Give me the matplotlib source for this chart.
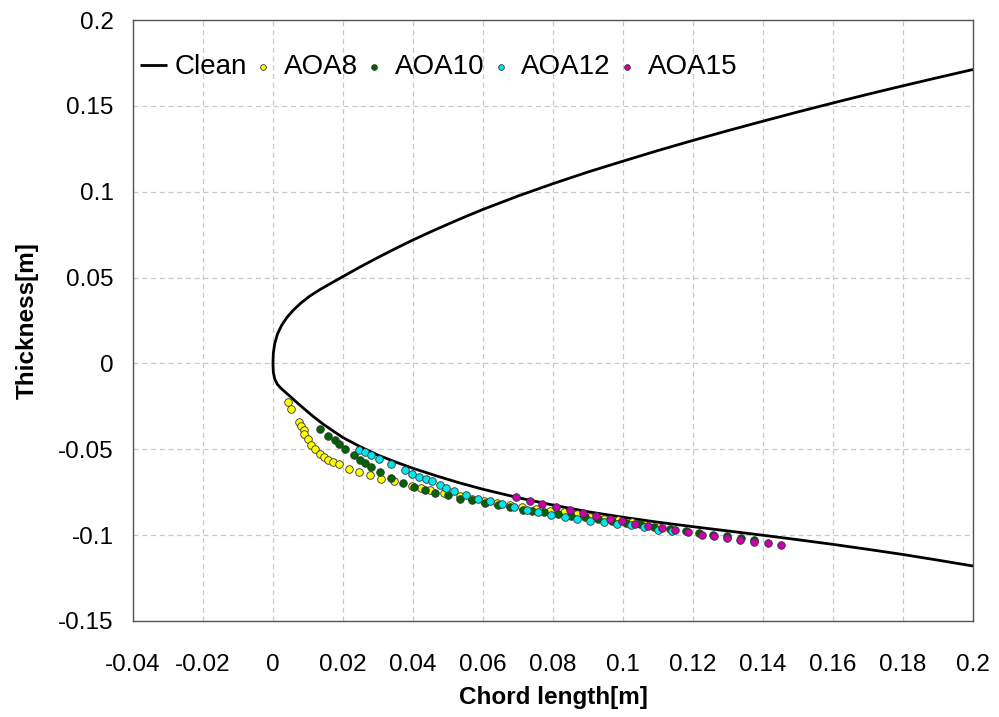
import matplotlib
matplotlib.use("Agg")
import matplotlib.pyplot as plt
import numpy as np

plt.rcParams['font.family'] = ['Liberation Sans', 'DejaVu Sans']

# Clean airfoil contour: upper surface (trailing -> nose), lower surface (nose -> trailing)
upper_x = [0.2, 0.19, 0.18, 0.17, 0.16, 0.15, 0.14, 0.13, 0.12, 0.11, 0.10, 0.09, 0.08, 0.07,
           0.06, 0.055, 0.05, 0.045, 0.04, 0.035, 0.03, 0.025, 0.02, 0.0165, 0.0135,
           0.0105, 0.0080, 0.0058, 0.0040, 0.0025, 0.0013, 0.0005, 0.0001, 0.0]
upper_y = [0.1712, 0.1665, 0.1617, 0.1568, 0.1517, 0.1465, 0.1411, 0.1356, 0.1299, 0.1240, 0.1178, 0.1115, 0.1047, 0.0975,
           0.0897, 0.0855, 0.0811, 0.0766, 0.0719, 0.0669, 0.0617, 0.0563, 0.0506, 0.0466, 0.0431,
           0.0392, 0.0352, 0.0310, 0.0268, 0.0223, 0.0172, 0.0115, 0.0058, 0.0]
lower_x = [0.0001, 0.0005, 0.0012, 0.0022, 0.0035, 0.005, 0.0068, 0.009, 0.0115, 0.0145, 0.0175,
           0.02, 0.025, 0.03, 0.035, 0.04, 0.047, 0.0535, 0.06, 0.07, 0.08, 0.09,
           0.10, 0.11, 0.12, 0.13, 0.14, 0.15, 0.16, 0.17, 0.18, 0.19, 0.2]
lower_y = [-0.005, -0.009, -0.012, -0.0143, -0.0167, -0.0194, -0.0227, -0.0266, -0.0309, -0.0356, -0.0398,
           -0.0432, -0.0486, -0.0534, -0.0574, -0.0611, -0.0657, -0.0697, -0.0733, -0.0782, -0.0825, -0.0864,
           -0.0896, -0.0925, -0.0951, -0.0976, -0.1001, -0.1027, -0.1054, -0.1083, -0.1113, -0.1146, -0.118]

aoa8_x = [0.0044, 0.0052, 0.0074, 0.0080, 0.0088, 0.0090, 0.0099, 0.0109, 0.0121, 0.0133,
          0.0145, 0.0157, 0.0171, 0.0190, 0.0216, 0.0246, 0.0276, 0.0310, 0.0345, 0.0396,
          0.0424, 0.0448, 0.0490, 0.0535, 0.0568, 0.0602, 0.0640, 0.0676, 0.0712, 0.0753,
          0.0791, 0.0831, 0.0869, 0.0905, 0.0946, 0.0985, 0.1027, 0.1062, 0.1101, 0.1140]
aoa8_y = [-0.0226, -0.0263, -0.0342, -0.0366, -0.0385, -0.0414, -0.0443, -0.0473, -0.0498, -0.0525,
          -0.0547, -0.0564, -0.0574, -0.0583, -0.0613, -0.0630, -0.0652, -0.0671, -0.0687, -0.0712,
          -0.0725, -0.0735, -0.0752, -0.0770, -0.0789, -0.0803, -0.0813, -0.0824, -0.0838, -0.0848,
          -0.0861, -0.0867, -0.0875, -0.0894, -0.0906, -0.0915, -0.0924, -0.0939, -0.0955, -0.0969]

aoa10_x = [0.0135, 0.0157, 0.0176, 0.0190, 0.0207, 0.0231, 0.0248, 0.0264, 0.0281, 0.0305,
           0.0338, 0.0372, 0.0403, 0.0434, 0.0464, 0.0499, 0.0535, 0.0568, 0.0607, 0.0643,
           0.0678, 0.0714, 0.0740, 0.0775, 0.0815, 0.0853, 0.0892, 0.0930, 0.0970, 0.1010,
           0.1050, 0.1090, 0.1135, 0.1180, 0.1218, 0.1258, 0.1297, 0.1336, 0.1375]
aoa10_y = [-0.0381, -0.0420, -0.0447, -0.0467, -0.0496, -0.0535, -0.0564, -0.0580, -0.0603, -0.0634,
           -0.0667, -0.0696, -0.0720, -0.0735, -0.0755, -0.0768, -0.0788, -0.0797, -0.0813, -0.0823,
           -0.0836, -0.0852, -0.0862, -0.0868, -0.0878, -0.0888, -0.0897, -0.0908, -0.0918, -0.0928,
           -0.0938, -0.0950, -0.0962, -0.0978, -0.0988, -0.0998, -0.1007, -0.1017, -0.1027]

aoa12_x = [0.0246, 0.0264, 0.0281, 0.0302, 0.0338, 0.0376, 0.0396, 0.0417, 0.0438, 0.0455,
           0.0477, 0.0493, 0.0518, 0.0551, 0.0585, 0.0621, 0.0654, 0.0690, 0.0726, 0.0756,
           0.0795, 0.0834, 0.0869, 0.0907, 0.0946, 0.0984, 0.1022, 0.1060, 0.1099, 0.1139]
aoa12_y = [-0.0502, -0.0517, -0.0531, -0.0556, -0.0583, -0.0618, -0.0642, -0.0661, -0.0673, -0.0687,
           -0.0706, -0.0725, -0.0741, -0.0764, -0.0788, -0.0803, -0.0819, -0.0838, -0.0856, -0.0865,
           -0.0881, -0.0894, -0.0906, -0.0916, -0.0926, -0.0933, -0.0943, -0.0955, -0.0969, -0.0978]

aoa15_x = [0.0695, 0.0734, 0.0769, 0.0810, 0.0848, 0.0887, 0.0924, 0.0962, 0.0996, 0.1034,
           0.1073, 0.1111, 0.1149, 0.1186, 0.1225, 0.1261, 0.1297, 0.1335, 0.1374, 0.1414, 0.1452]
aoa15_y = [-0.0780, -0.0803, -0.0819, -0.0838, -0.0856, -0.0871, -0.0887, -0.0906, -0.0920, -0.0933,
           -0.0949, -0.0959, -0.0973, -0.0984, -0.0998, -0.1007, -0.1017, -0.1027, -0.1040, -0.1048, -0.1060]

x_ticks = [-0.04, -0.02, 0, 0.02, 0.04, 0.06, 0.08, 0.1, 0.12, 0.14, 0.16, 0.18, 0.2]
x_labels = ['-0.04', '-0.02', '0', '0.02', '0.04', '0.06', '0.08', '0.1', '0.12', '0.14', '0.16', '0.18', '0.2']
y_ticks = [-0.15, -0.1, -0.05, 0, 0.05, 0.1, 0.15, 0.2]
y_labels = ['-0.15', '-0.1', '-0.05', '0', '0.05', '0.1', '0.15', '0.2']

clean_x = upper_x + lower_x
clean_y = upper_y + lower_y

fig = plt.figure(figsize=(9.99, 7.17), dpi=100)
ax = fig.add_axes([0.1331, 0.134, 0.8408, 0.838])

ax.plot(clean_x, clean_y, color='black', lw=2.0, label='Clean', zorder=3,
        solid_joinstyle='round', solid_capstyle='butt')
mk = dict(s=30, edgecolors='#333333', linewidths=0.6, zorder=4)
ax.scatter(aoa8_x, aoa8_y, color='#ffff00', label='AOA8', **mk)
ax.scatter(aoa10_x, aoa10_y, color='#006400', label='AOA10', **mk)
ax.scatter(aoa12_x, aoa12_y, color='#00e8f0', label='AOA12', **mk)
ax.scatter(aoa15_x, aoa15_y, color='#cc00aa', label='AOA15', **mk)

ax.set_xlim(-0.04, 0.2)
ax.set_ylim(-0.15, 0.2)
ax.set_xticks(x_ticks)
ax.set_xticklabels(x_labels)
ax.set_yticks(y_ticks)
ax.set_yticklabels(y_labels)
ax.tick_params(axis='x', length=0, labelsize=17.5, pad=24)
ax.tick_params(axis='y', length=0, labelsize=17.5, pad=14)
ax.grid(True, color='#c8c8c8', linestyle=(0, (4, 3)), lw=0.9)
ax.set_axisbelow(True)
for s in ax.spines.values():
    s.set_color('#555555')
    s.set_linewidth(1.0)

ax.set_xlabel('Chord length[m]', fontsize=17.5, fontweight='bold', labelpad=7)
ax.set_ylabel('Thickness[m]', fontsize=17.5, fontweight='bold', labelpad=14)

leg = ax.legend(loc='upper left', bbox_to_anchor=(0.008, 0.943), ncol=5, frameon=False,
                fontsize=20, handlelength=1.0, handletextpad=0.25, columnspacing=0.08,
                markerscale=0.75, borderaxespad=0.0, borderpad=0.0)

fig.savefig('out.png', dpi=100)
